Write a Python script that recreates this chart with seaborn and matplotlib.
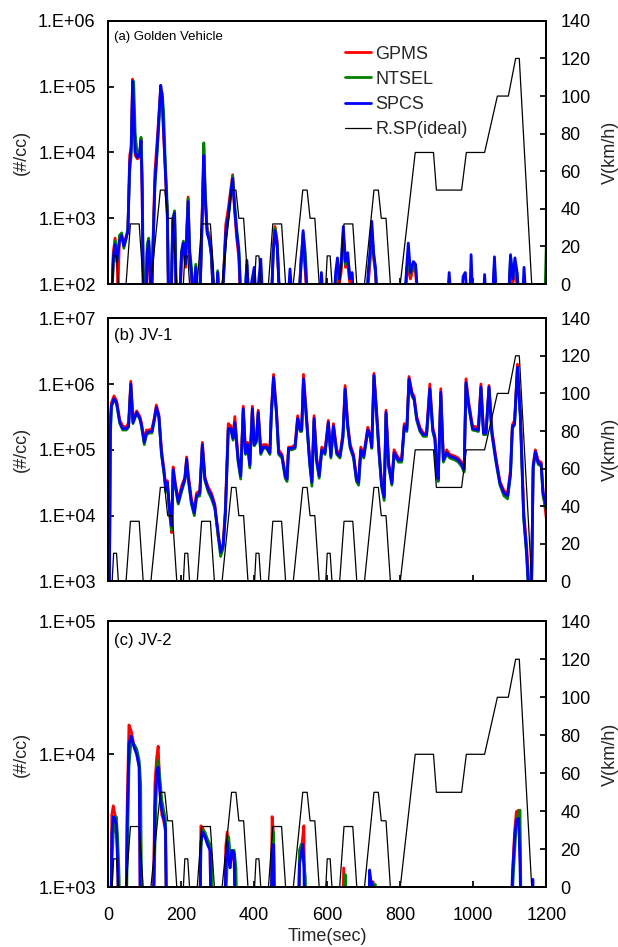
import seaborn as sns
import matplotlib.pyplot as plt
from matplotlib.lines import Line2D
from matplotlib.ticker import FuncFormatter, NullLocator
import numpy as np

# vehicle speed, NEDC (ECE x4 + EUDC), km/h
speed_t = [0, 11, 15, 23, 28, 49, 61, 85, 96, 117, 143, 155, 163, 176, 188,
           206, 210, 218, 223, 244, 256, 280, 291, 312, 338, 350, 358, 371, 383,
           401, 405, 413, 418, 439, 451, 475, 486, 507, 533, 545, 553, 566, 578,
           596, 600, 608, 613, 634, 646, 670, 681, 702, 728, 740, 748, 761, 773,
           800, 841, 891, 899, 968, 981, 1031, 1066, 1096, 1116, 1126, 1160, 1180]
speed_v = [0, 0, 15, 15, 0, 0, 32, 32, 0, 0, 50, 50, 35, 35, 0,
           0, 15, 15, 0, 0, 32, 32, 0, 0, 50, 50, 35, 35, 0,
           0, 15, 15, 0, 0, 32, 32, 0, 0, 50, 50, 35, 35, 0,
           0, 15, 15, 0, 0, 32, 32, 0, 0, 50, 50, 35, 35, 0,
           0, 70, 70, 50, 50, 70, 70, 100, 100, 120, 120, 0, 0]

# (a) Golden Vehicle
p1_t = [8, 14, 19, 24, 27, 31, 37, 43, 49, 54,
        59, 63, 67, 70, 74, 80, 86, 90, 93, 97,
        103, 107, 111, 114, 118, 123, 128, 133, 138, 144,
        148, 152, 157, 162, 166, 172, 177, 182, 187, 196,
        201, 206, 212, 219, 223, 228, 234, 240, 246, 252,
        257, 262, 266, 271, 277, 283, 289, 296, 300, 305,
        315, 322, 329, 336, 341, 346, 352, 358, 364, 374,
        380, 385, 400, 406, 418, 424, 448, 452, 457, 463,
        470, 492, 498, 505, 522, 528, 534, 540, 546, 580,
        584, 590, 618, 623, 628, 633, 638, 644, 650, 656,
        662, 668, 674, 708, 712, 717, 722, 727, 732, 738,
        812, 818, 822, 828, 836, 842, 850, 928, 934, 940,
        968, 972, 978, 985, 990, 994, 999, 1027, 1031, 1036,
        1052, 1058, 1064, 1096, 1102, 1108, 1114, 1120, 1126, 1134,
        1139, 1145, 1196, 1200]
p1_gpms = [30, 300, 500, 250, 90, 480, 500, 420, 520, 600,
           9000, 1.2e4, 1.3e5, 5e4, 9000, 8000, 8500, 1.6e4, 2500, 30,
           30, 250, 400, 150, 30, 500, 5000, 1.2e4, 3e4, 1e5,
           6e4, 1.8e4, 4500, 1000, 30, 40, 700, 1000, 30, 40,
           280, 400, 180, 2100, 280, 140, 40, 160, 40, 70,
           1000, 1.2e4, 1800, 700, 550, 300, 40, 30, 120, 30,
           90, 800, 1400, 2800, 4600, 1400, 500, 250, 30, 40,
           150, 40, 60, 40, 60, 40, 60, 350, 750, 450,
           40, 40, 60, 40, 40, 250, 400, 150, 40, 40,
           60, 40, 40, 60, 150, 100, 150, 500, 180, 200,
           100, 120, 40, 40, 100, 200, 600, 250, 150, 40,
           40, 150, 160, 120, 180, 150, 40, 40, 60, 40,
           40, 60, 60, 40, 40, 80, 40, 40, 60, 40,
           40, 150, 40, 40, 200, 100, 150, 100, 40, 40,
           60, 40, 40, 40]
p1_ntsel = [30, 200, 450, 300, 250, 550, 600, 350, 480, 700,
            5000, 9000, 8e4, 1.2e5, 2e4, 9000, 9500, 1.7e4, 5000, 60,
            100, 400, 500, 250, 60, 350, 3000, 8000, 2.2e4, 9e4,
            8e4, 4e4, 6000, 1500, 40, 60, 1000, 1300, 60, 60,
            320, 450, 240, 2000, 350, 180, 60, 200, 60, 90,
            700, 1.4e4, 2500, 650, 500, 250, 60, 50, 160, 50,
            110, 500, 1000, 2200, 4400, 1800, 700, 350, 60, 60,
            200, 60, 80, 50, 80, 50, 70, 280, 700, 400,
            60, 50, 80, 50, 60, 200, 600, 300, 60, 50,
            70, 50, 50, 80, 200, 150, 180, 600, 200, 250,
            130, 140, 50, 50, 120, 250, 700, 280, 160, 50,
            50, 180, 200, 140, 210, 180, 50, 50, 70, 50,
            50, 70, 70, 50, 50, 90, 50, 50, 70, 50,
            50, 200, 50, 50, 260, 120, 200, 140, 50, 50,
            80, 50, 60, 400]
p1_spcs = [30, 250, 400, 220, 300, 450, 550, 380, 500, 650,
           7000, 1.1e4, 1.2e5, 4e4, 1e4, 8500, 9000, 1.5e4, 3000, 30,
           40, 300, 450, 200, 40, 400, 3500, 9000, 2.8e4, 1.05e5,
           7e4, 2e4, 5000, 1200, 30, 40, 900, 1200, 40, 50,
           300, 420, 200, 1800, 300, 150, 40, 180, 50, 80,
           800, 9000, 2000, 600, 450, 280, 40, 40, 150, 40,
           100, 600, 1100, 2500, 4000, 1500, 600, 300, 40, 50,
           230, 60, 180, 50, 240, 50, 80, 300, 650, 380,
           50, 50, 170, 50, 50, 180, 650, 200, 50, 50,
           150, 50, 50, 150, 250, 120, 200, 750, 220, 300,
           120, 150, 40, 50, 150, 300, 900, 300, 180, 40,
           50, 200, 420, 150, 220, 200, 40, 50, 150, 50,
           50, 130, 150, 50, 50, 280, 50, 50, 140, 50,
           50, 260, 50, 50, 280, 120, 250, 150, 50, 50,
           180, 50, 50, 50]

# (b) JV-1
p2_t = [3, 6, 9, 16, 23, 32, 40, 50, 56, 62,
        68, 78, 87, 91, 99, 105, 113, 120, 126, 132,
        139, 146, 153, 158, 162, 169, 174, 178, 184, 192,
        201, 210, 215, 219, 228, 236, 242, 251, 258, 265,
        274, 283, 292, 301, 308, 315, 321, 329, 336, 342,
        347, 356, 363, 370, 376, 382, 388, 395, 400, 406,
        411, 418, 425, 434, 443, 447, 453, 461, 467, 476,
        485, 490, 494, 503, 512, 519, 526, 530, 535, 544,
        552, 558, 564, 571, 578, 585, 594, 603, 610, 617,
        626, 635, 643, 649, 656, 663, 672, 680, 686, 692,
        700, 711, 718, 722, 728, 735, 742, 749, 756, 761,
        768, 777, 783, 795, 804, 811, 818, 824, 832, 838,
        845, 854, 863, 872, 881, 889, 895, 900, 904, 911,
        918, 927, 936, 950, 959, 968, 975, 980, 987, 998,
        1014, 1021, 1028, 1035, 1043, 1051, 1062, 1073, 1084, 1094,
        1102, 1107, 1113, 1121, 1129, 1138, 1146, 1153, 1159, 1164,
        1170, 1178, 1186, 1191, 1200]
p2_gpms = [300, 3e5, 5.2e5, 6.6e5, 5.6e5, 2.8e5, 2.3e5, 2.2e5, 2.6e5, 1.1e6,
           2.9e5, 3.9e5, 3.2e5, 2.6e5, 1.4e5, 2.0e5, 2.0e5, 2.1e5, 3.0e5, 4.8e5,
           3.4e5, 1.0e5, 5e4, 2.7e4, 3.4e4, 1.0e4, 5.5e3, 5.5e4, 3.1e4, 1.7e4,
           2.8e4, 3.8e4, 7.8e4, 4.4e4, 1.8e4, 1.2e4, 2.2e4, 2.4e4, 1.3e5, 3.8e4,
           2.7e4, 2.2e4, 1.5e4, 5e3, 3e3, 3.8e3, 1.3e4, 2.5e5, 2.3e5, 1.6e5,
           3.2e5, 7.5e4, 4.3e4, 4.6e5, 1.0e5, 1.3e5, 6.2e4, 4.6e5, 1.3e5, 1.5e5,
           4.0e5, 1.0e5, 1.2e5, 1.2e5, 1.0e5, 4.0e5, 1.4e6, 4.0e5, 1.0e5, 8.5e4,
           4.3e4, 3.8e4, 1.1e5, 1.1e5, 1.2e5, 3.3e5, 2.2e5, 2.2e5, 1.4e6, 2.8e5,
           7e4, 3.4e4, 3.3e5, 7.5e4, 4.3e4, 1.1e5, 1.0e5, 2.8e5, 8.5e4, 2.5e5,
           1.0e5, 8.5e4, 1.8e5, 9.5e5, 2.5e5, 1.2e5, 8.5e4, 3.8e4, 3.5e4, 1.1e5,
           8.5e4, 2.2e5, 1.7e5, 1.2e5, 1.45e6, 4.0e5, 1.0e5, 3.1e4, 2.0e4, 4.0e5,
           6.5e4, 3.3e4, 1.0e5, 7.5e4, 7.5e4, 2.5e5, 2.2e5, 1.3e6, 7.5e5, 6.5e5,
           3.2e5, 2.2e5, 1.8e5, 1.8e5, 1.0e6, 2.2e5, 1.6e5, 5e4, 3.8e4, 8.5e5,
           7.5e4, 1.0e5, 8.5e4, 8e4, 7.5e4, 6.5e4, 5.5e4, 1.2e6, 5.5e5, 2.3e5,
           2.2e5, 1.0e6, 2.0e5, 2.0e5, 9.5e5, 2.0e5, 7.5e4, 3.3e4, 2.4e4, 2.2e4,
           5e4, 2.4e5, 2.8e5, 2.0e6, 3.5e5, 1.2e4, 3.5e3, 800, 500, 6e4,
           1.0e5, 6.8e4, 6.5e4, 2.4e4, 9e3]
p2_ntsel = [300, 1.5e5, 4.5e5, 5.8e5, 5.0e5, 2.5e5, 2.0e5, 2.0e5, 2.2e5, 9.5e5,
            2.5e5, 3.6e5, 2.9e5, 2.3e5, 1.2e5, 1.7e5, 1.8e5, 1.8e5, 2.7e5, 4.2e5,
            3.1e5, 8.5e4, 4.3e4, 2.3e4, 3.0e4, 1.0e4, 6e3, 4.6e4, 2.7e4, 1.5e4,
            2.3e4, 3.4e4, 6.8e4, 3.7e4, 1.5e4, 1.0e4, 1.9e4, 2.0e4, 1.1e5, 3.4e4,
            2.3e4, 1.8e4, 1.3e4, 5e3, 2.4e3, 3.2e3, 1.0e4, 2.0e5, 2.0e5, 1.4e5,
            2.5e5, 6.5e4, 3.6e4, 4.0e5, 8.5e4, 1.15e5, 5.3e4, 4.0e5, 1.15e5, 1.3e5,
            3.5e5, 8.5e4, 1.05e5, 1.05e5, 8.5e4, 3.5e5, 1.2e6, 3.5e5, 8.5e4, 7.5e4,
            3.7e4, 3.3e4, 1.0e5, 1.0e5, 1.05e5, 2.8e5, 1.9e5, 1.9e5, 1.15e6, 2.5e5,
            6e4, 2.8e4, 2.8e5, 6.5e4, 3.7e4, 9.5e4, 8.5e4, 2.5e5, 7.5e4, 2.2e5,
            8.5e4, 7.5e4, 1.5e5, 8e5, 2.2e5, 1.05e5, 7.5e4, 3.3e4, 2.9e4, 9.5e4,
            7.5e4, 1.9e5, 1.5e5, 1.05e5, 1.3e6, 3.5e5, 8.5e4, 2.7e4, 1.7e4, 3.5e5,
            5.6e4, 2.9e4, 8.5e4, 6.5e4, 6.5e4, 2.2e5, 1.9e5, 1.15e6, 6.6e5, 5.7e5,
            2.8e5, 1.9e5, 1.6e5, 1.6e5, 8e5, 1.9e5, 1.4e5, 4.2e4, 3.3e4, 7e5,
            6.5e4, 8.5e4, 7.5e4, 7e4, 6.5e4, 5.6e4, 4.6e4, 1.0e6, 4.7e5, 2.0e5,
            1.9e5, 8.5e5, 1.7e5, 1.7e5, 8.5e5, 1.7e5, 6.5e4, 2.9e4, 2.0e4, 1.8e4,
            4.2e4, 2.1e5, 2.4e5, 1.7e6, 3.0e5, 9e3, 2.5e3, 500, 500, 5.2e4,
            8.8e4, 6.0e4, 5.6e4, 2.0e4, 1.2e4]
p2_spcs = [300, 2e5, 4.7e5, 6e5, 5.2e5, 2.6e5, 2.1e5, 2.1e5, 2.3e5, 1.0e6,
           2.6e5, 3.7e5, 3.0e5, 2.4e5, 1.3e5, 1.8e5, 1.9e5, 1.9e5, 2.8e5, 4.4e5,
           3.2e5, 9e4, 4.6e4, 2.5e4, 3.2e4, 1.1e4, 7e3, 5e4, 2.9e4, 1.6e4,
           2.5e4, 3.6e4, 7.2e4, 4e4, 1.6e4, 1.1e4, 2e4, 2.2e4, 1.2e5, 3.6e4,
           2.5e4, 2e4, 1.4e4, 5.6e3, 2.8e3, 3.5e3, 1.1e4, 2.1e5, 2.1e5, 1.5e5,
           2.6e5, 7e4, 4e4, 4.2e5, 9e4, 1.2e5, 5.8e4, 4.2e5, 1.2e5, 1.4e5,
           3.7e5, 9e4, 1.1e5, 1.1e5, 9e4, 3.7e5, 1.26e6, 3.7e5, 9e4, 8e4,
           4e4, 3.6e4, 1.05e5, 1.05e5, 1.1e5, 3e5, 2e5, 2e5, 1.2e6, 2.6e5,
           6.5e4, 3.2e4, 3e5, 7e4, 4e4, 1.0e5, 9e4, 2.6e5, 8e4, 2.3e5,
           9e4, 8e4, 1.6e5, 8.4e5, 2.3e5, 1.1e5, 8e4, 3.6e4, 3.2e4, 1e5,
           8e4, 2e5, 1.6e5, 1.1e5, 1.35e6, 3.7e5, 9e4, 2.9e4, 1.9e4, 3.7e5,
           6e4, 3.1e4, 9e4, 7e4, 7e4, 2.3e5, 2e5, 1.2e6, 7e5, 6e5,
           3e5, 2e5, 1.7e5, 1.7e5, 8.5e5, 2e5, 1.5e5, 4.6e4, 3.6e4, 7.5e5,
           7e4, 9e4, 8e4, 7.5e4, 7e4, 6e4, 5e4, 1.05e6, 5e5, 2.1e5,
           2e5, 9e5, 1.8e5, 1.8e5, 9e5, 1.8e5, 7e4, 3.1e4, 2.2e4, 2e4,
           4.4e4, 2.2e5, 2.5e5, 1.8e6, 3.2e5, 1e4, 2.8e3, 500, 500, 5.6e4,
           9.4e4, 6.3e4, 6e4, 2.2e4, 1.4e4]

# (c) JV-2
p3_t = [3, 7, 10, 14, 18, 22, 26, 30, 34, 48,
        52, 57, 63, 70, 78, 85, 89, 93, 122, 128,
        133, 137, 142, 147, 152, 157, 161, 250, 254, 259,
        265, 272, 279, 283, 287, 318, 322, 326, 330, 334,
        339, 345, 350, 355, 445, 449, 453, 457, 520, 524,
        529, 533, 536, 540, 544, 640, 645, 649, 653, 712,
        716, 720, 726, 732, 736, 1102, 1107, 1113, 1118, 1124,
        1128, 1132, 1160, 1163, 1167, 1200]
p3_gpms = [300, 300, 3500, 4100, 3600, 3200, 1800, 300, 300, 300,
           4000, 1.66e4, 1.5e4, 1.2e4, 1.05e4, 8000, 300, 300, 300, 6000,
           9500, 1.15e4, 5500, 3500, 3200, 2600, 300, 300, 2900, 2800,
           2500, 2200, 1900, 300, 300, 300, 2000, 2600, 2000, 1500,
           1700, 1600, 300, 300, 300, 3400, 2500, 300, 300, 1600,
           1900, 2400, 2900, 300, 300, 300, 1400, 300, 300, 300,
           300, 1100, 1100, 300, 300, 300, 1200, 2600, 3700, 3800,
           2000, 300, 300, 300, 300, 300]
p3_ntsel = [300, 300, 1500, 2500, 3000, 3400, 2400, 1200, 300, 300,
            1500, 8000, 1.3e4, 1.2e4, 1.1e4, 9000, 6000, 300, 300, 2000,
            7000, 9000, 6500, 4500, 3800, 3200, 300, 300, 2000, 2700,
            2600, 2300, 2100, 1500, 300, 300, 800, 1500, 2400, 1800,
            1700, 1900, 1400, 300, 300, 1500, 2600, 300, 300, 1900,
            2100, 1800, 1500, 1200, 300, 300, 300, 1250, 300, 300,
            300, 1100, 1050, 1050, 300, 300, 900, 1800, 3000, 3600,
            3800, 300, 300, 300, 300, 300]
p3_spcs = [300, 300, 2500, 3400, 3300, 3000, 1500, 300, 300, 300,
           3000, 1.2e4, 1.37e4, 1.15e4, 1e4, 8000, 300, 300, 300, 4000,
           7500, 8000, 5000, 3800, 3300, 2800, 300, 300, 2200, 2600,
           2400, 2100, 1900, 300, 300, 300, 1500, 2200, 1600, 1400,
           1900, 1800, 300, 300, 300, 1800, 2100, 300, 300, 1500,
           1800, 2100, 1500, 300, 300, 300, 300, 300, 300, 300,
           1350, 1100, 1000, 300, 300, 300, 1200, 2300, 3200, 3300,
           1500, 300, 300, 1150, 300, 300]

series_names = ['GPMS', 'NTSEL', 'SPCS', 'R.SP(ideal)']
series_colors = ['#ff0000', '#008000', '#0000ff', 'black']
time_ticks = [0, 200, 400, 600, 800, 1000, 1200]
speed_ticks = [0, 20, 40, 60, 80, 100, 120, 140]

sns.set_theme(style="white")
plt.rcParams['font.family'] = ['Liberation Sans', 'DejaVu Sans']

fig = plt.figure(figsize=(6.18, 9.47), dpi=100)


def draw_panel(rect, t, gpms, ntsel, spcs, ylo, yhi, tag, tag_size, tag_y, bottom_panel):
    ax = fig.add_axes(rect)
    ax.set_yscale('log')
    for vals, col in zip([gpms, ntsel, spcs], series_colors[:3]):
        sns.lineplot(x=t, y=vals, ax=ax, color=col, linewidth=2.0,
                     estimator=None, sort=False)
    ax.set_xlim(0, 1200)
    ax.set_ylim(10 ** ylo, 10 ** yhi)
    ax.set_yticks([10 ** k for k in range(ylo, yhi + 1)])
    ax.yaxis.set_minor_locator(NullLocator())
    ax.yaxis.set_major_formatter(FuncFormatter(lambda v, p: f"1.E+{int(round(np.log10(v))):02d}"))
    ax.set_xticks(time_ticks)
    ax.tick_params(axis='y', left=True, direction='in', length=4, labelsize=13, pad=9, colors='black')
    ax.tick_params(axis='x', bottom=True, direction='in', length=4, labelsize=13, pad=14,
                   labelbottom=bottom_panel, colors='black')
    ax.set_ylabel('(#/cc)', fontsize=13, labelpad=6)
    if bottom_panel:
        ax.set_xlabel('Time(sec)', fontsize=13, labelpad=3)

    ax2 = ax.twinx()
    sns.lineplot(x=speed_t, y=speed_v, ax=ax2, color='black', linewidth=0.9,
                 estimator=None, sort=False)
    ax2.set_ylim(0, 140)
    ax2.set_yticks(speed_ticks)
    ax2.tick_params(axis='y', right=True, direction='in', length=4, labelsize=13, pad=10, colors='black')
    ax2.set_ylabel('V(km/h)', fontsize=13, labelpad=8)
    for a in (ax, ax2):
        for sp in a.spines.values():
            sp.set_color('black')
            sp.set_linewidth(1.3)
    ax2.text(0.013, tag_y, tag, transform=ax2.transAxes, fontsize=tag_size,
             ha='left', va='center', color='black')
    return ax, ax2


ax_a, ax_a2 = draw_panel([0.175, 0.700, 0.709, 0.278], p1_t, p1_gpms, p1_ntsel, p1_spcs,
                         2, 6, '(a) Golden Vehicle', 9.5, 0.940, False)
draw_panel([0.175, 0.386, 0.709, 0.278], p2_t, p2_gpms, p2_ntsel, p2_spcs,
           3, 7, '(b) JV-1', 12, 0.934, False)
draw_panel([0.175, 0.063, 0.709, 0.281], p3_t, p3_gpms, p3_ntsel, p3_spcs,
           3, 5, '(c) JV-2', 12, 0.929, True)

handles = [Line2D([], [], color=c, linewidth=2.0 if c != 'black' else 0.9) for c in series_colors]
ax_a2.legend(handles, series_names, loc='upper left', bbox_to_anchor=(0.540, 0.906),
             frameon=False, fontsize=13, borderpad=0, borderaxespad=0,
             handlelength=1.45, handletextpad=0.25, labelspacing=0.45)

plt.savefig('out.png', dpi=100)
